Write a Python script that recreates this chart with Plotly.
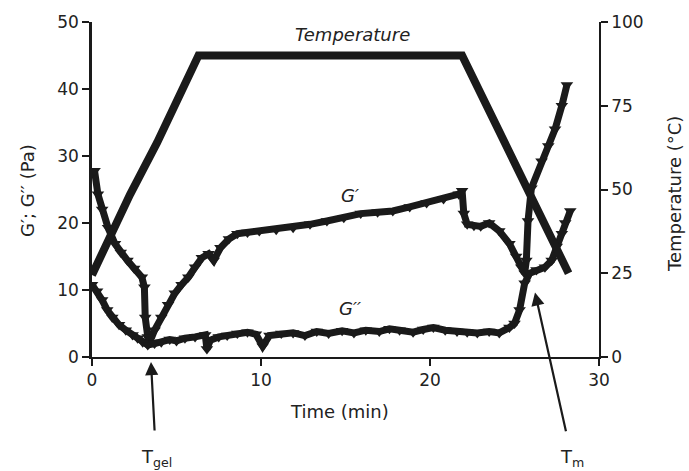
import plotly.graph_objects as go

# ---- data ----
gp_time = [0.0, 0.15, 0.35, 0.6, 0.95, 1.36, 1.7, 2.1, 2.5, 2.95, 3.1, 3.15, 3.3, 3.4, 3.7, 4.1, 4.5,
           4.9, 5.3, 5.7, 6.1, 6.5, 6.9, 7.2, 7.6, 8.1, 8.6, 9.2, 9.9, 10.9, 11.9, 12.9, 13.9, 14.9,
           15.9, 16.9, 17.8, 18.8, 19.8, 20.8, 21.7, 21.9, 22.0, 22.2, 22.6, 23.0, 23.5, 24.1, 24.7,
           25.1, 25.4, 25.6, 25.7, 25.8, 26.0, 26.6, 27.0, 27.4, 27.8, 28.1]
gp_vals = [27.5, 27.8, 24.3, 22.0, 19.3, 16.9, 15.6, 14.4, 13.2, 11.9, 10.4, 5.9, 3.0, 2.1, 4.0, 5.9, 7.8,
           9.5, 10.8, 11.9, 13.4, 14.8, 15.4, 14.4, 16.3, 17.6, 18.4, 18.6, 18.8, 19.0, 19.3, 19.8, 20.3, 20.8,
           21.4, 21.6, 21.8, 22.4, 23.0, 23.6, 24.3, 24.8, 21.4, 19.8, 19.6, 19.5, 20.0, 18.8, 16.9,
           15.0, 13.4, 12.5, 14.4, 20.3, 25.2, 29.2, 31.5, 34.0, 37.5, 40.6]

gpp_time = [0.0, 0.3, 0.6, 0.9, 1.2, 1.6, 2.0, 2.4, 2.7, 3.0, 3.3, 3.7, 4.1, 4.6, 5.0, 5.5, 6.1, 6.7,
            6.8, 7.0, 7.5, 8.0, 8.6, 9.2, 9.7, 10.1, 10.5, 11.2, 11.9, 12.6, 13.3, 14.0, 14.8, 15.5,
            16.2, 17.0, 17.6, 18.2, 19.0, 19.6, 20.2, 20.9, 21.6, 22.2, 22.8, 23.5, 24.1, 24.7, 25.0,
            25.3, 25.6, 25.9, 26.3, 26.8, 27.2, 27.5, 27.8, 28.0, 28.3]
gpp_vals = [10.8, 9.8, 8.5, 7.0, 5.9, 4.8, 4.0, 3.3, 2.8, 2.2, 1.8, 2.0, 2.2, 2.6, 2.4, 2.8, 3.0, 3.3,
            1.2, 2.5, 3.0, 3.2, 3.5, 3.7, 3.4, 1.6, 3.2, 3.5, 3.6, 3.2, 3.8, 3.5, 3.9, 3.6,
            4.0, 3.8, 4.2, 4.0, 3.7, 4.1, 4.4, 4.0, 3.8, 3.7, 3.6, 3.8, 3.6, 4.4, 5.0,
            7.0, 11.0, 12.5, 13.0, 13.4, 14.4, 16.5, 18.4, 20.0, 21.8]

temp_time = [0.0, 2.25, 3.85, 6.3, 21.9, 23.8, 25.8, 27.0, 28.2]
temp_vals = [24.5, 48.5, 64.0, 90.0, 90.0, 70.5, 50.4, 36.8, 25.0]

x_ticks = [0, 10, 20, 30]
y_ticks = [0, 10, 20, 30, 40, 50]
y2_ticks = [0, 25, 50, 75, 100]

FONT = "DejaVu Sans"
TXT = "#222222"
INK = "#1a1a1a"

fig = go.Figure()
fig.add_trace(go.Scatter(x=temp_time, y=temp_vals, yaxis="y2", mode="lines",
                         line=dict(color=INK, width=8), showlegend=False))
for tt, vv in [(gp_time, gp_vals), (gpp_time, gpp_vals)]:
    fig.add_trace(go.Scatter(x=tt, y=vv, mode="lines+markers",
                             line=dict(color=INK, width=7),
                             marker=dict(symbol="triangle-down", size=11, color=INK),
                             showlegend=False))

axis_common = dict(showgrid=False, zeroline=False, showline=True, linecolor=INK,
                   ticks="outside", ticklen=7, tickcolor=INK,
                   tickfont=dict(family=FONT, size=17, color=TXT))

fig.update_layout(
    width=689, height=471,
    margin=dict(l=92, r=90, t=20, b=114),
    paper_bgcolor="white", plot_bgcolor="white",
    xaxis=dict(range=[0, 30], tickvals=x_ticks, linewidth=1.5, tickwidth=2, **axis_common),
    yaxis=dict(range=[0, 50], tickvals=y_ticks, linewidth=2.5, tickwidth=1.5, **axis_common),
    yaxis2=dict(range=[0, 100], tickvals=y2_ticks, overlaying="y", side="right",
                linewidth=1.5, tickwidth=1.5, **axis_common),
)

def px2paper(px, py):
    return (px - 92) / 507.0, (357 - py) / 337.0

def label(text, px, py, size=18, italic=False, angle=0):
    x, y = px2paper(px, py)
    fig.add_annotation(x=x, y=y, xref="paper", yref="paper", text=text, showarrow=False,
                       textangle=angle, xanchor="center", yanchor="middle",
                       font=dict(family=FONT, size=size, color=TXT,
                                 style="italic" if italic else "normal"))

label("Temperature", 352, 33, italic=True)
label("G′", 350, 195, italic=True)
label("G′′", 350, 308, italic=True)
label("Time (min)", 339, 412)
label("G′; G′′ (Pa)", 28, 190, angle=-90)
label("Temperature (°C)", 675, 193, angle=-90)

# arrow annotations: text sits at the tail, arrow points at the marked transition
for text, tip, txt_pos in [("T<sub>gel</sub>", (151, 362), (156, 458)),
                           ("T<sub>m</sub>", (535, 292), (572, 458))]:
    x, y = px2paper(*tip)
    fig.add_annotation(x=x, y=y, xref="paper", yref="paper", text=text, showarrow=True,
                       arrowhead=2, arrowsize=1.2, arrowwidth=2.2, arrowcolor=INK,
                       standoff=0, startstandoff=14,
                       xanchor="center", yanchor="middle",
                       font=dict(family=FONT, size=18, color=TXT),
                       ax=txt_pos[0] - tip[0], ay=txt_pos[1] - tip[1])

fig.write_html("out.html")
